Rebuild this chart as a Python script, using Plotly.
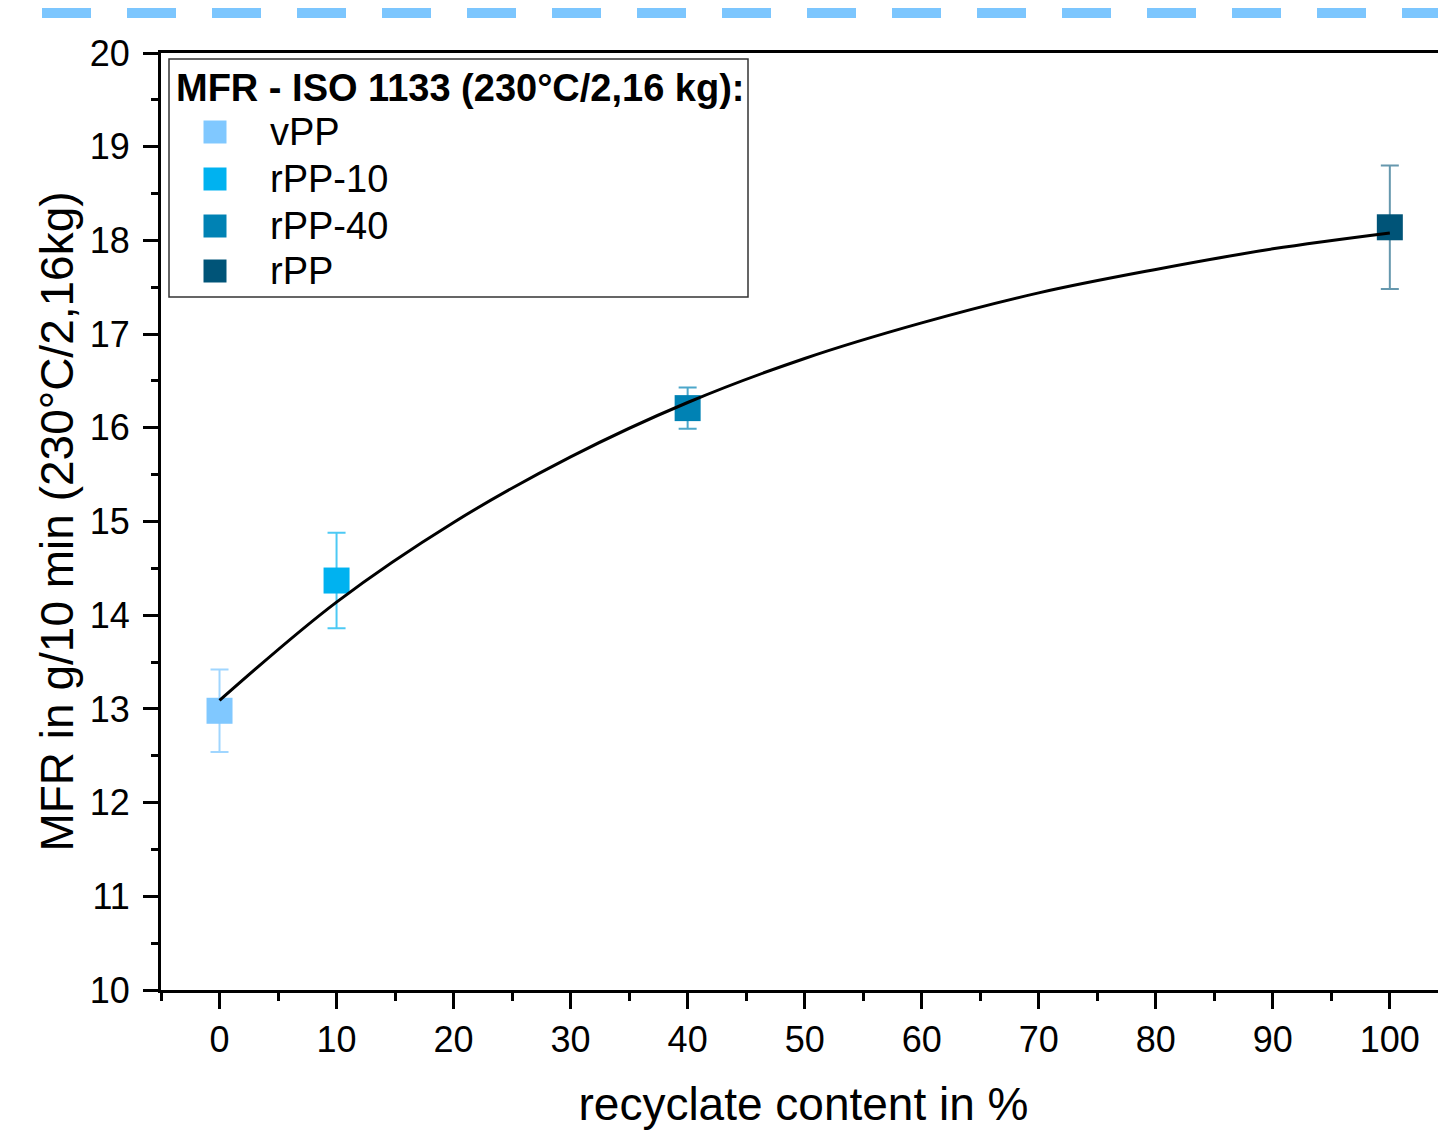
import plotly.graph_objects as go

# Data
names = ["vPP", "rPP-10", "rPP-40", "rPP"]
recyclate = [0, 10, 40, 100]
mfr = [12.98, 14.37, 16.21, 18.14]
mfr_err = [0.44, 0.51, 0.22, 0.66]
colors = ["#80C8FF", "#00B2F0", "#0082B4", "#005478"]
err_colors = ["rgba(128,200,255,0.75)", "rgba(0,178,240,0.7)", "rgba(0,130,180,0.7)", "rgba(0,84,120,0.6)"]

# Fit curve points
fit_x = [0, 10, 20, 30, 40, 50, 60, 70, 80, 90, 100]
fit_y = [13.09, 14.14, 14.99, 15.69, 16.27, 16.74, 17.12, 17.44, 17.69, 17.91, 18.08]

x_ticks = [0, 10, 20, 30, 40, 50, 60, 70, 80, 90, 100]
y_ticks = [10, 11, 12, 13, 14, 15, 16, 17, 18, 19, 20]

legend_title = "<b>MFR - ISO 1133 (230°C/2,16 kg):</b>"

FONT = "Liberation Sans, Arial, sans-serif"

fig = go.Figure()
for n, x, y, e, c, ec in zip(names, recyclate, mfr, mfr_err, colors, err_colors):
    fig.add_trace(go.Scatter(
        x=[x], y=[y], name=n, mode="markers",
        marker=dict(symbol="square", size=26, color=c, line=dict(width=0)),
        error_y=dict(type="data", array=[e], visible=True, color=ec, thickness=2, width=9),
        showlegend=False,
    ))

fig.add_trace(go.Scatter(
    x=fit_x, y=fit_y, mode="lines", line=dict(color="black", width=3, shape="spline"),
    showlegend=False, hoverinfo="skip",
))

# Figure geometry (page has an 8px body margin)
W, H = 1438, 1126
L, R, T, B = 153, 0, 45, 144
pw = W - L - R
ph = H - T - B
OFF = 8


def px(X):  # reference page x -> paper
    return (X - OFF - L) / pw


def py(Y):  # reference page y -> paper
    return (H - B - (Y - OFF)) / ph


# dashed decorative line at top
fig.add_shape(type="line", xref="paper", yref="paper",
              x0=px(-43), x1=px(1500), y0=py(12), y1=py(12),
              line=dict(color="#7CC6FE", width=12, dash="49px,36px"))

# manual legend
fig.add_shape(type="rect", xref="paper", yref="paper",
              x0=px(169), x1=px(748), y0=py(297), y1=py(59),
              line=dict(color="#333333", width=1.5), fillcolor="white", layer="above")
fig.add_annotation(xref="paper", yref="paper", x=px(174), y=py(88), xanchor="left", yanchor="middle",
                   text=legend_title, showarrow=False, font=dict(family=FONT, size=38, color="black"))
item_y = [132, 179, 226, 271]
half = 11.5
for n, c, yy in zip(names, colors, item_y):
    fig.add_shape(type="rect", xref="paper", yref="paper",
                  x0=px(215 - half), x1=px(215 + half), y0=py(yy + half), y1=py(yy - half),
                  line=dict(width=0), fillcolor=c, layer="above")
    fig.add_annotation(xref="paper", yref="paper", x=px(268), y=py(yy), xanchor="left", yanchor="middle",
                       text=n, showarrow=False, font=dict(family=FONT, size=38, color="black"))

fig.update_layout(
    width=W, height=H,
    margin=dict(l=L, r=R, t=T, b=B),
    paper_bgcolor="white", plot_bgcolor="white",
    font=dict(family=FONT, size=36, color="black"),
    showlegend=False,
    xaxis=dict(
        range=[-5, 104.8], tickmode="array", tickvals=x_ticks,
        ticks="outside", ticklen=16, tickwidth=3, tickcolor="black",
        showline=True, linewidth=3, linecolor="black", mirror=True,
        showgrid=False, zeroline=False,
        minor=dict(dtick=5, tick0=-5, ticks="outside", ticklen=8, tickwidth=3, tickcolor="black"),
        tickfont=dict(size=36),
        title=dict(text="recyclate content in %", font=dict(size=46), standoff=29),
    ),
    yaxis=dict(
        range=[10, 20], tickmode="array", tickvals=y_ticks,
        ticks="outside", ticklen=15, tickwidth=3, tickcolor="black",
        showline=True, linewidth=3, linecolor="black", mirror=False,
        showgrid=False, zeroline=False,
        minor=dict(dtick=0.5, tick0=10, ticks="outside", ticklen=7, tickwidth=3, tickcolor="black"),
        tickfont=dict(size=36), ticklabelstandoff=6,
        title=dict(text="MFR in g/10 min (230°C/2,16kg)", font=dict(size=46), standoff=2),
    ),
)

fig.write_html("out.html")
